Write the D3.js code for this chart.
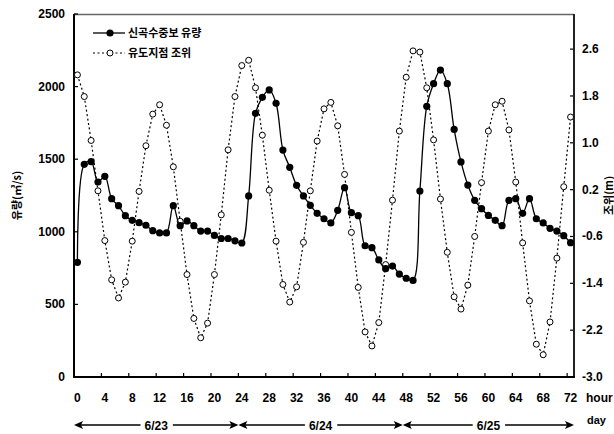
<!DOCTYPE html>
<html><head><meta charset="utf-8">
<script src="https://cdn.jsdelivr.net/npm/d3@7"></script>
<style>
html,body{margin:0;padding:0;background:#fff;}
text{font-family:"Liberation Sans","Noto Sans CJK KR",Arial,sans-serif;font-weight:bold;fill:#000;}
.kr{font-family:"Noto Sans CJK KR","Liberation Sans",sans-serif;font-weight:bold;}
</style></head>
<body><svg id="c" width="614" height="434"></svg>
<script>
// ---- data ----
const seriesNames = ["신곡수중보 유량", "유도지점 조위"];
const flow = [790,1465,1483,1343,1382,1228,1180,1111,1079,1063,1045,1008,992,992,1180,1042,1075,1042,1005,1005,
  975,954,954,938,923,1247,1816,1926,1977,1885,1563,1444,1320,1247,1182,1127,1090,1061,1148,1304,
  1132,1111,904,891,806,746,764,709,680,665,1281,1864,2020,2114,2020,1705,1481,1322,1217,1159,
  1113,1079,1042,1217,1228,1127,1228,1090,1061,1024,1005,973,925];
const tide = [2.16,1.79,1.04,0.18,-0.67,-1.34,-1.65,-1.38,-0.68,0.17,0.95,1.49,1.65,1.30,0.59,-0.34,-1.25,-2.00,-2.33,-2.08,
  -1.25,-0.23,0.88,1.79,2.32,2.41,1.94,1.13,0.19,-0.68,-1.42,-1.72,-1.46,-0.70,0.18,1.03,1.58,1.69,1.29,0.46,
  -0.53,-1.47,-2.23,-2.47,-2.07,-1.08,0.02,1.20,2.12,2.57,2.55,1.94,1.05,0.04,-0.87,-1.63,-1.84,-1.43,-0.60,0.32,
  1.20,1.65,1.71,1.22,0.33,-0.71,-1.70,-2.44,-2.62,-2.06,-0.97,0.25,1.44];
const xTickLabels = [0,4,8,12,16,20,24,28,32,36,40,44,48,52,56,60,64,68,72];
const leftTicks = [0,500,1000,1500,2000,2500];
const rightTicks = [-3.0,-2.2,-1.4,-0.6,0.2,1.0,1.8,2.6];
const dayLabels = ["6/23","6/24","6/25"];
const dayBounds = [-0.5,23.5,47.5,72.5];
const leftTitle = "유량(㎥/s)";
const rightTitle = "조위(m)";
const xUnit = "hour", dayUnit = "day";

// ---- layout ----
const L=74, R=574, T=14, B=377;
const svg = d3.select("#c");
const x = d3.scaleLinear().domain([-0.5,72.5]).range([L,R]);
const yL = d3.scaleLinear().domain([0,2500]).range([B,T]);
const yR = d3.scaleLinear().domain([-3.0,3.2]).range([B,T]);

// frame
svg.append("line").attr("x1",L).attr("x2",R).attr("y1",T+0.5).attr("y2",T+0.5).attr("stroke","#666").attr("stroke-width",1.5);
// ticks (inward)
const tickG = svg.append("g").attr("stroke","#000").attr("stroke-width",1.2);
xTickLabels.slice(1).forEach(v=>{
  const px = x(v-0.5);
  tickG.append("line").attr("x1",px).attr("x2",px).attr("y1",B).attr("y2",B-4);
});
leftTicks.forEach(v=>{
  tickG.append("line").attr("x1",L).attr("x2",L+4).attr("y1",yL(v)).attr("y2",yL(v));
});
rightTicks.forEach(v=>{
  tickG.append("line").attr("x1",R).attr("x2",R-4).attr("y1",yR(v)).attr("y2",yR(v));
});
svg.append("line").attr("x1",L).attr("x2",L).attr("y1",T).attr("y2",B+1).attr("stroke","#000").attr("stroke-width",2);
svg.append("line").attr("x1",R).attr("x2",R).attr("y1",T).attr("y2",B+1).attr("stroke","#222").attr("stroke-width",2);
svg.append("line").attr("x1",L-1).attr("x2",R+1).attr("y1",B).attr("y2",B).attr("stroke","#000").attr("stroke-width",2);

// tick labels
svg.append("g").selectAll("text").data(leftTicks).join("text")
  .attr("x",65).attr("y",d=>yL(d)+4).attr("text-anchor","end").attr("font-size",12).text(d=>d);
svg.append("g").selectAll("text").data(rightTicks).join("text")
  .attr("x",582).attr("y",d=>yR(d)+4).attr("font-size",12).text(d=>d.toFixed(1));
svg.append("g").selectAll("text").data(xTickLabels).join("text")
  .attr("x",d=>x(d)).attr("y",402).attr("text-anchor","middle").attr("font-size",12).text(d=>d);
svg.append("text").attr("x",586).attr("y",402).attr("font-size",12).text(xUnit);
svg.append("text").attr("x",587).attr("y",424).attr("font-size",11).text(dayUnit);

// axis titles
svg.append("text").attr("class","kr").attr("font-size",11).attr("text-anchor","middle")
  .attr("transform",`translate(20.5,${(T+B)/2}) rotate(-90)`).text(leftTitle);
svg.append("text").attr("class","kr").attr("font-size",11).attr("text-anchor","middle")
  .attr("transform",`translate(612.5,${(T+B)/2}) rotate(-90)`).text(rightTitle);

// day arrows
const ay = 425;
dayLabels.forEach((lab,i)=>{
  const x0 = x(dayBounds[i]), x1 = x(dayBounds[i+1]);
  const cx = (x0+x1)/2;
  const t = svg.append("text").attr("x",cx).attr("y",ay+4.5).attr("text-anchor","middle").attr("font-size",12).text(lab);
  const w = t.node().getComputedTextLength();
  svg.append("line").attr("x1",x0+2).attr("x2",cx-w/2-4).attr("y1",ay).attr("y2",ay).attr("stroke","#000").attr("stroke-width",1.5);
  svg.append("line").attr("x1",cx+w/2+5).attr("x2",x1-2).attr("y1",ay).attr("y2",ay).attr("stroke","#000").attr("stroke-width",1.5);
  svg.append("path").attr("d",`M${x0},${ay} L${x0+9},${ay-4} L${x0+7},${ay} L${x0+9},${ay+4} Z`).attr("fill","#000");
  svg.append("path").attr("d",`M${x1},${ay} L${x1-9},${ay-4} L${x1-7},${ay} L${x1-9},${ay+4} Z`).attr("fill","#000");
});

// series
const lineTide = d3.line().x((d,i)=>x(i)).y(d=>yR(d));
svg.append("path").datum(tide).attr("d",lineTide).attr("fill","none")
  .attr("stroke","#000").attr("stroke-width",1.2).attr("stroke-dasharray","2,2.5");
svg.append("g").selectAll("circle").data(tide).join("circle")
  .attr("cx",(d,i)=>x(i)).attr("cy",d=>yR(d)).attr("r",3)
  .attr("fill","#fff").attr("stroke","#000").attr("stroke-width",1);

const lineFlow = d3.line().x((d,i)=>x(i)).y(d=>yL(d)).curve(d3.curveCatmullRom.alpha(0.5));
svg.append("path").datum(flow).attr("d",lineFlow).attr("fill","none")
  .attr("stroke","#000").attr("stroke-width",1.3);
svg.append("g").selectAll("circle").data(flow).join("circle")
  .attr("cx",(d,i)=>x(i)).attr("cy",d=>yL(d)).attr("r",3.6).attr("fill","#000");

// legend
const lg = svg.append("g");
lg.append("line").attr("x1",93).attr("x2",125).attr("y1",33).attr("y2",33).attr("stroke","#000").attr("stroke-width",1.3);
lg.append("circle").attr("cx",110).attr("cy",33).attr("r",3.6).attr("fill","#000");
lg.append("text").attr("class","kr").attr("x",128).attr("y",37).attr("font-size",11).text(seriesNames[0]);
lg.append("line").attr("x1",93).attr("x2",125).attr("y1",53).attr("y2",53).attr("stroke","#000").attr("stroke-width",1.2).attr("stroke-dasharray","2,2.5");
lg.append("circle").attr("cx",110).attr("cy",53).attr("r",3).attr("fill","#fff").attr("stroke","#000");
lg.append("text").attr("class","kr").attr("x",128).attr("y",57).attr("font-size",11).text(seriesNames[1]);
</script></body></html>
